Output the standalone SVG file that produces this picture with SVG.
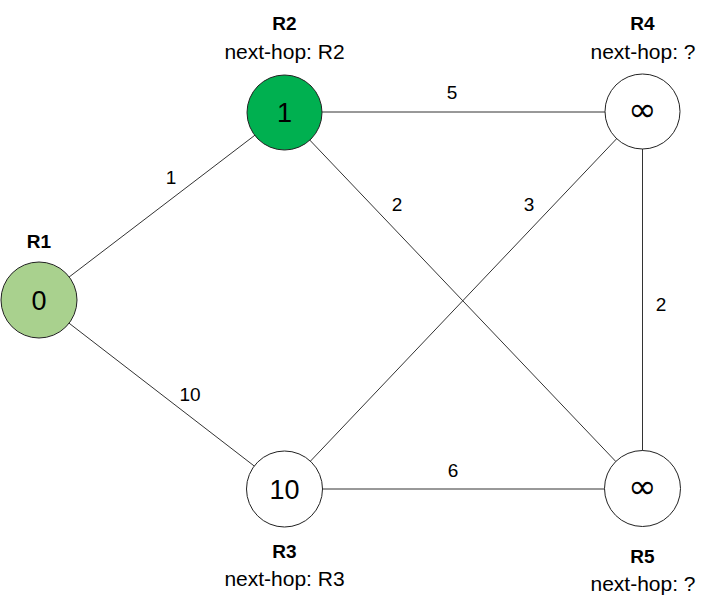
<svg xmlns="http://www.w3.org/2000/svg" width="711" height="610" viewBox="0 0 711 610">
<style>
.edge{stroke:#333;stroke-width:1;fill:none}
.node{stroke:#222;stroke-width:1}
.val{font-family:"Liberation Sans",Arial,sans-serif;font-size:27px;text-anchor:middle;fill:#000}
.inf{font-family:"DejaVu Sans",sans-serif;font-size:34px;text-anchor:middle;fill:#000}
.title{font-family:"Liberation Sans",Arial,sans-serif;font-size:19px;font-weight:bold;text-anchor:middle;fill:#000}
.hop{font-family:"Liberation Sans",Arial,sans-serif;font-size:21px;text-anchor:middle;fill:#000}
.w{font-family:"Liberation Sans",Arial,sans-serif;font-size:19px;text-anchor:middle;fill:#000}
</style>
<rect width="711" height="610" fill="#fff"/>
<g id="connectors">
<line class="edge" x1="39" y1="300" x2="284" y2="113"/>
<line class="edge" x1="39" y1="300" x2="284" y2="489"/>
<line class="edge" x1="284" y1="112" x2="642" y2="112"/>
<line class="edge" x1="284" y1="113" x2="642" y2="489"/>
<line class="edge" x1="642" y1="112" x2="284" y2="489"/>
<line class="edge" x1="642.5" y1="112" x2="642.5" y2="489"/>
<line class="edge" x1="284" y1="489" x2="642" y2="489"/>
<text class="w" x="171" y="184">1</text>
<text class="w" x="452" y="99">5</text>
<text class="w" x="397" y="211">2</text>
<text class="w" x="529" y="211">3</text>
<text class="w" x="190" y="401">10</text>
<text class="w" x="661" y="311">2</text>
<text class="w" x="453" y="477">6</text>
</g>
<g id="R1">
<circle class="node" cx="39" cy="300" r="38" fill="#A9D18E"/>
<text class="val" x="39" y="310">0</text>
<text class="title" x="39" y="248">R1</text>
</g>
<g id="R2">
<circle class="node" cx="284.5" cy="112.5" r="37.5" fill="#00B050"/>
<text class="val" x="284.5" y="122">1</text>
<text class="title" x="284.5" y="30">R2</text>
<text class="hop" x="284.5" y="59">next-hop: R2</text>
</g>
<g id="R4">
<circle class="node" cx="642.5" cy="111.5" r="37.5" fill="#fff"/>
<text class="inf" x="642.5" y="121">∞</text>
<text class="title" x="642.5" y="30">R4</text>
<text class="hop" x="643" y="59">next-hop: ?</text>
</g>
<g id="R3">
<circle class="node" cx="284.5" cy="489" r="38" fill="#fff"/>
<text class="val" x="284.5" y="499">10</text>
<text class="title" x="284.5" y="558">R3</text>
<text class="hop" x="284.5" y="586">next-hop: R3</text>
</g>
<g id="R5">
<circle class="node" cx="642.5" cy="488.5" r="38" fill="#fff"/>
<text class="inf" x="642.5" y="498">∞</text>
<text class="title" x="642.5" y="563">R5</text>
<text class="hop" x="643" y="591">next-hop: ?</text>
</g>
</svg>
